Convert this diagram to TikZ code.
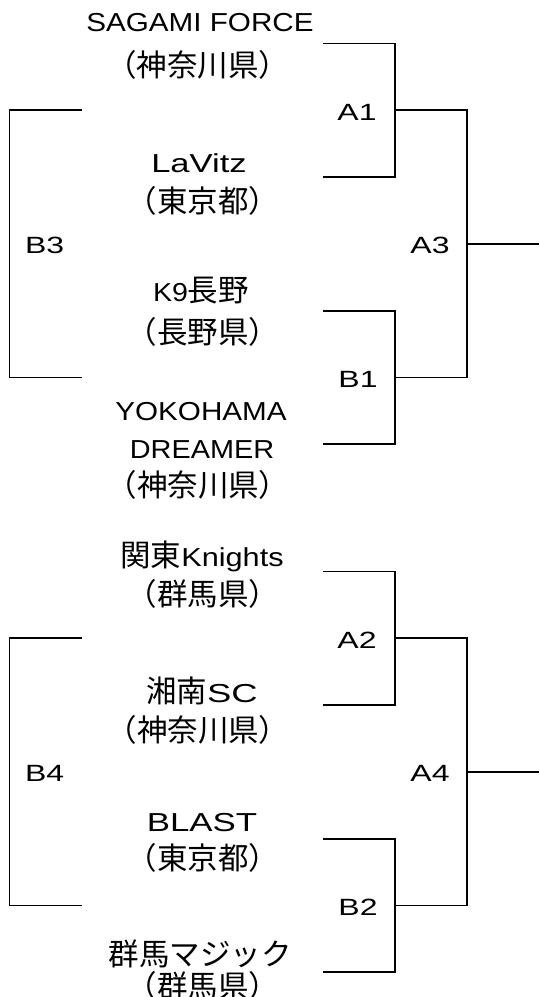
\documentclass[tikz,border=0pt]{standalone}
\usepackage{graphicx}
\usepackage{fontspec}
\setmainfont{Liberation Sans}
\newfontfamily\jpfont{Noto Sans CJK JP}
\newcommand\J[1]{{\jpfont\fontsize{30.5}{36}\selectfont #1}}
\newcommand\SX[2]{\scalebox{#1}[1]{#2}}
\newcommand\LBL[1]{\SX{1.36}{#1}}
\tikzset{
  br/.style={line width=1.8pt},
  team/.style={anchor=base, inner sep=0pt, font=\fontsize{26}{31}\selectfont},
  lab/.style={anchor=center, inner sep=0pt, font=\fontsize{23.5}{28}\selectfont},
}
\begin{document}
\begin{tikzpicture}[x=1pt,y=-1pt]
\useasboundingbox (0,0) rectangle (539,997);
% ---------- top block ----------
\coordinate (t1) at (323,43.5);
\coordinate (t2) at (323,177.1);
\coordinate (t3) at (323,310.7);
\coordinate (t4) at (323,444.3);
\coordinate (m1) at (395,110.3);
\coordinate (m2) at (395,377.5);
\coordinate (o1) at (467,243.9);
\coordinate (e1) at (539,243.9);
\coordinate (s1) at (81.5,110.3);
\coordinate (s2) at (81.5,377.5);
\coordinate (c1) at (9.5,243.9);
\draw[br] (t1) -| (m1) |- (t2);
\draw[br] (t3) -| (m2) |- (t4);
\draw[br] (m1) -| (o1) |- (m2);
\draw[br] (o1) -- (e1);
\draw[br] (s1) -| (c1) |- (s2);
\node[lab] (A1) at (357,112) {\LBL{A1}};
\node[lab] (A3) at (430,245.5) {\LBL{A3}};
\node[lab] (B1) at (358,379.5) {\LBL{B1}};
\node[lab] (B3) at (44.7,245.5) {\LBL{B3}};
\node[team] (n1) at (200,31) {\SX{1.14}{SAGAMI FORCE}};
\node[team] (p1) at (197.6,76) {\J{（神奈川県）}};
\node[team] (n2) at (199,172.5) {\SX{1.33}{LaVitz}};
\node[team] (p2) at (203,212.6) {\J{（東京都）}};
\node[team] (n3) at (201,301.5) {\SX{1.1}{K9}\J{長野}};
\node[team] (p3) at (203,343.5) {\J{（長野県）}};
\node[team] (n4a) at (201,420.5) {\SX{1.14}{YOKOHAMA}};
\node[team] (n4b) at (202,458) {\SX{1.11}{DREAMER}};
\node[team] (p4) at (198,496) {\J{（神奈川県）}};
% ---------- bottom block ----------
\coordinate (u1) at (323,571.5);
\coordinate (u2) at (323,705.1);
\coordinate (u3) at (323,838.7);
\coordinate (u4) at (323,972.3);
\coordinate (m3) at (395,638.3);
\coordinate (m4) at (395,905.5);
\coordinate (o2) at (467,771.9);
\coordinate (e2) at (539,771.9);
\coordinate (s3) at (81.5,638.3);
\coordinate (s4) at (81.5,905.5);
\coordinate (c2) at (9.5,771.9);
\draw[br] (u1) -| (m3) |- (u2);
\draw[br] (u3) -| (m4) |- (u4);
\draw[br] (m3) -| (o2) |- (m4);
\draw[br] (o2) -- (e2);
\draw[br] (s3) -| (c2) |- (s4);
\node[lab] (A2) at (357,640) {\LBL{A2}};
\node[lab] (A4) at (430,773.5) {\LBL{A4}};
\node[lab] (B2) at (358,907.5) {\LBL{B2}};
\node[lab] (B4) at (44.7,773.5) {\LBL{B4}};
\node[team] (n5) at (202,566.5) {\J{関東}\SX{1.18}{Knights}};
\node[team] (p5) at (203,605.6) {\J{（群馬県）}};
\node[team] (n6) at (202,702) {\J{湘南}\SX{1.4}{SC}};
\node[team] (p6) at (198,741) {\J{（神奈川県）}};
\node[team] (n7) at (202,831) {\SX{1.34}{BLAST}};
\node[team] (p7) at (203,869) {\J{（東京都）}};
\node[team] (n8) at (200,965) {\J{群馬マジック}};
\node[team] (p8) at (203,997) {\J{（群馬県）}};
\end{tikzpicture}
\end{document}
